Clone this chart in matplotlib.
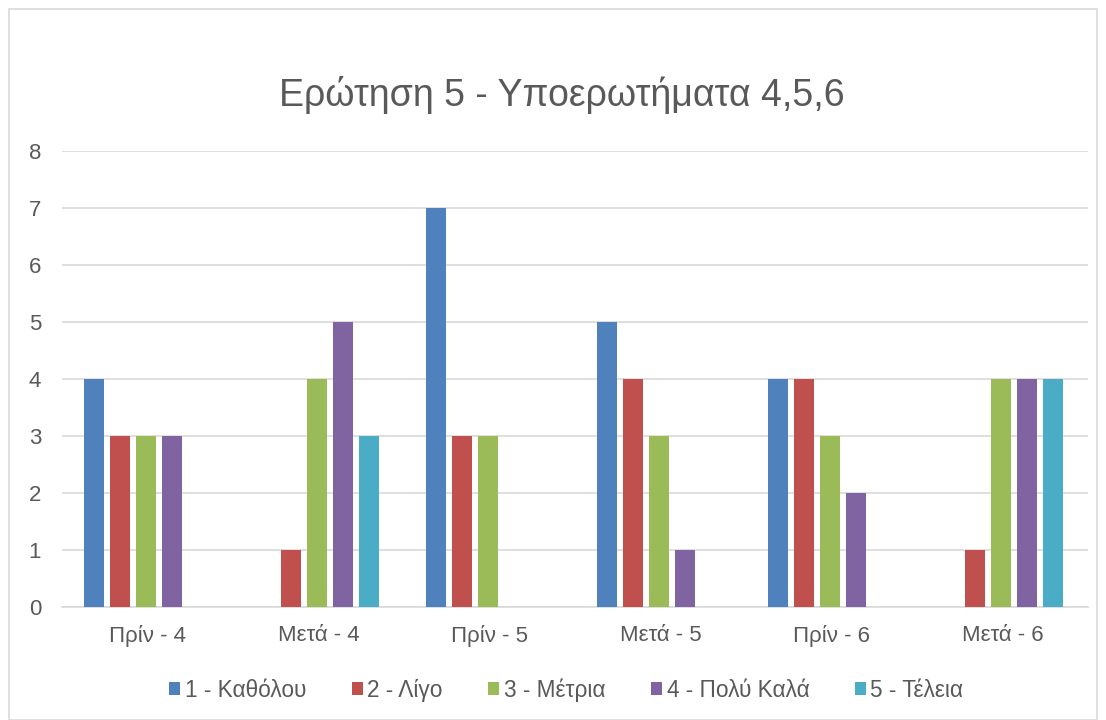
import numpy as np
import matplotlib.pyplot as plt
from matplotlib.patches import Rectangle

# Data
categories = ['Πρίν - 4', 'Μετά - 4', 'Πρίν - 5', 'Μετά - 5', 'Πρίν - 6', 'Μετά - 6']
series_names = ['1 - Καθόλου', '2 - Λίγο', '3 - Μέτρια', '4 - Πολύ Καλά', '5 - Τέλεια']
katholou = [4, 0, 7, 5, 4, 0]
ligo = [3, 1, 3, 4, 4, 1]
metria = [3, 4, 3, 3, 3, 4]
poly_kala = [3, 5, 0, 1, 2, 4]
teleia = [0, 3, 0, 0, 0, 4]
series_values = [katholou, ligo, metria, poly_kala, teleia]
colors = ['#4F81BD', '#C0504D', '#9BBB59', '#8064A2', '#4BACC6']

plt.rcParams['font.family'] = ['Liberation Sans', 'DejaVu Sans']
text_color = '#595959'

fig = plt.figure(figsize=(11.06, 7.2), dpi=100)
ax = fig.add_axes([62 / 1106, 1 - 607 / 720, 1026 / 1106, 456 / 720])

# chart area border
fig.patches.append(Rectangle((9 / 1106, 0), 1 - 18 / 1106, 1 - 9 / 720, transform=fig.transFigure,
                             fill=False, edgecolor='#D9D9D9', linewidth=1.2))

x = np.arange(len(categories))
step = 26 / 171
width = 20 / 171
for i, (name, vals) in enumerate(zip(series_names, series_values)):
    ax.bar(x + (i - 2) * step - 0.01, vals, width, color=colors[i], label=name, zorder=3)

ax.set_xlim(-0.5, len(categories) - 0.5)
ax.set_ylim(0, 8)
ax.set_yticks(range(0, 9))
ax.set_xticks(x)
ax.set_xticklabels(categories)
ax.tick_params(axis='both', length=0, labelsize=16, colors=text_color)
ax.tick_params(axis='y', pad=15)
ax.tick_params(axis='x', pad=13)
ax.grid(axis='y', color='#D9D9D9', linewidth=1.2, zorder=0)
for s in ['top', 'right', 'left']:
    ax.spines[s].set_visible(False)
ax.spines['bottom'].set_color('#D9D9D9')
ax.spines['bottom'].set_linewidth(1.2)

fig.text(0.508, 1 - 95 / 720, 'Ερώτηση 5 - Υποερωτήματα 4,5,6', ha='center', va='center',
         fontsize=27, color=text_color)

fig.legend(loc='center', bbox_to_anchor=(0.512, 1 - 690 / 720), ncol=5, frameon=False,
           fontsize=16.3, labelcolor=text_color, handlelength=0.5, handleheight=0.5,
           handletextpad=0.2, columnspacing=2.0)

fig.savefig('out.png', dpi=100)
